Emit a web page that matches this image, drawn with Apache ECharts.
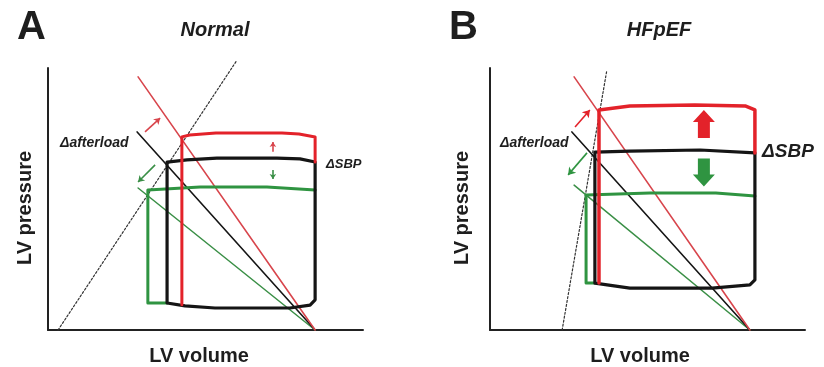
<!DOCTYPE html>
<html><head><meta charset="utf-8">
<script src="https://cdn.jsdelivr.net/npm/echarts@6/dist/echarts.min.js"></script>
<style>html,body{margin:0;padding:0;background:#fff}#c{width:824px;height:367px}</style>
</head><body><div id="c"></div>
<script>
// ---- Panel A: Normal (LV volume, LV pressure; arbitrary units 0-100) ----
const normalESPVR   = [[3.2,0],[60,103]];
const normalEaRed   = [[28.6,96.6],[84.8,0]];
const normalEaBlack = [[28.3,75.6],[84.8,0]];
const normalEaGreen = [[28.6,54.2],[84.8,0]];
const normalLoopBlack = [[37.8,10.3],[37.8,64.1],[44.1,64.9],[53.6,65.6],[72.7,65.6],[80,65.3],[84.8,64.1],[84.8,11.5],[83.2,9.5],[76.8,8.4],[53,8.4],[43.5,9.2],[37.8,10.3]];
const normalLoopRed   = [[42.5,9.6],[42.5,73.7],[45,74.4],[53.3,75.2],[74.3,75.2],[79.7,74.8],[84.8,73.7],[84.8,64.1]];
const normalLoopGreen = [[37.8,10.3],[31.7,10.3],[31.7,53.4],[48.3,54.6],[69.5,54.6],[84.8,53.4]];
const normalArrowRed   = [[30.8,75.6],[35.6,80.9]];
const normalArrowGreen = [[34.0,63.0],[28.6,56.5]];
const normalSbpUp   = [[71.4,68.0],[71.4,71.8]];
const normalSbpDown = [[71.4,61.1],[71.4,57.6]];

// ---- Panel B: HFpEF ----
const hfESPVR   = [[22.9,0],[37.1,99.2]];
const hfEaRed   = [[26.7,96.6],[82.5,0]];
const hfEaBlack = [[26.0,75.6],[82.5,0]];
const hfEaGreen = [[26.7,55.3],[82.5,0]];
const hfLoopBlack = [[33.3,17.9],[33.3,67.9],[44.4,68.3],[66.7,68.7],[84.1,67.6],[84.1,19.1],[82.5,17.2],[70.5,16.0],[44.4,16.0],[33.3,17.9]];
const hfLoopRed   = [[34.6,17.9],[34.6,84.0],[44.4,85.5],[65,85.9],[81,85.5],[84.1,84.0],[84.1,67.6]];
const hfLoopGreen = [[33.3,17.9],[30.5,17.9],[30.5,51.5],[50.8,52.3],[71.7,52.3],[84.1,51.1]];
const hfArrowRed   = [[27.0,77.5],[31.7,84.0]];
const hfArrowGreen = [[30.8,67.6],[24.8,59.2]];
const hfSbpUp   = [[67.9,78.6]];
const hfSbpDown = [[67.9,60.1]];

const RED = '#e3222a', GREEN = '#2f9441', BLACK = '#151515', REDLINE = '#d8454c', GREENLINE = '#3a8f46';

function ln(g, data, color, width, type, z) {
  return {type:'line', xAxisIndex:g, yAxisIndex:g, data:data, symbol:'none', clip:false, silent:true,
    lineStyle:{color:color, width:width, type:type||'solid', cap:'round', join:'round'}, z:z||2, animation:false};
}
function arrow(g, pts, color, size, z) {
  return {type:'lines', coordinateSystem:'cartesian2d', xAxisIndex:g, yAxisIndex:g, silent:true,
    symbol:['none','arrow'], symbolSize:size||7, lineStyle:{color:color, width:1.6, opacity:1, curveness:0},
    data:[{coords:pts}], z:z||5, animation:false};
}
const blockPath = 'path://M11,0L22,12L17,12L17,28L5,28L5,12L0,12Z';
function block(g, pt, color, rot) {
  return {type:'scatter', xAxisIndex:g, yAxisIndex:g, data:pt, symbol:blockPath, symbolSize:[22,28],
    symbolRotate:rot, itemStyle:{color:color, opacity:1}, silent:true, z:5, animation:false};
}

const axisCommon = {type:'value', min:0, max:100,
  axisLine:{show:true, onZero:false, lineStyle:{color:'#222', width:2}},
  axisTick:{show:false}, axisLabel:{show:false}, splitLine:{show:false}};

const TXT = '#1e1e1e';
const F = '"Liberation Sans", Arial, sans-serif';
function txt(x, y, s, font, align, rot) {
  return {type:'text', x:x, y:y, rotation:rot||0, silent:true,
    style:{text:s, font:font, fill:TXT, align:align||'center', verticalAlign:'middle'}};
}

const chart = echarts.init(document.getElementById('c'), null, {renderer:'canvas'});
chart.setOption({
  animation:false,
  backgroundColor:'#fff',
  grid:[{left:48, top:68, width:315, height:262}, {left:490, top:68, width:315, height:262}],
  xAxis:[Object.assign({gridIndex:0}, axisCommon), Object.assign({gridIndex:1}, axisCommon)],
  yAxis:[Object.assign({gridIndex:0}, axisCommon), Object.assign({gridIndex:1}, axisCommon)],
  series:[
    ln(0, normalESPVR, '#333', 1.2, [2,2], 1),
    ln(0, normalEaGreen, GREENLINE, 1.5),
    ln(0, normalEaBlack, BLACK, 1.6),
    ln(0, normalEaRed, REDLINE, 1.6),
    ln(0, normalLoopGreen, GREEN, 3, 'solid', 3),
    ln(0, normalLoopBlack, BLACK, 3.2, 'solid', 3),
    ln(0, normalLoopRed, RED, 3, 'solid', 4),
    arrow(0, normalArrowRed, REDLINE, 6),
    arrow(0, normalArrowGreen, GREENLINE, 6),
    arrow(0, normalSbpUp, REDLINE, 5),
    arrow(0, normalSbpDown, GREENLINE, 5),

    ln(1, hfESPVR, '#333', 1.2, [2,2], 1),
    ln(1, hfEaGreen, GREENLINE, 1.5),
    ln(1, hfEaBlack, BLACK, 1.6),
    ln(1, hfEaRed, REDLINE, 1.6),
    ln(1, hfLoopGreen, GREEN, 3, 'solid', 3),
    ln(1, hfLoopBlack, BLACK, 3.2, 'solid', 3),
    ln(1, hfLoopRed, RED, 3.5, 'solid', 4),
    arrow(1, hfArrowRed, RED, 7),
    arrow(1, hfArrowGreen, GREEN, 7),
    block(1, hfSbpUp, RED, 0),
    block(1, hfSbpDown, GREEN, 180)
  ],
  graphic:[
    txt(17, 28, 'A', 'bold 40px ' + F, 'left'),
    txt(449, 28, 'B', 'bold 40px ' + F, 'left'),
    txt(215, 30, 'Normal', 'italic bold 20px ' + F),
    txt(659, 30, 'HFpEF', 'italic bold 20px ' + F),
    txt(60, 143, 'Δafterload', 'italic bold 14px ' + F, 'left'),
    txt(500, 143, 'Δafterload', 'italic bold 14px ' + F, 'left'),
    txt(326, 164, 'ΔSBP', 'italic bold 13px ' + F, 'left'),
    txt(762, 152, 'ΔSBP', 'italic bold 19px ' + F, 'left'),
    txt(25, 208, 'LV pressure', 'bold 20px ' + F, 'center', Math.PI/2),
    txt(462, 208, 'LV pressure', 'bold 20px ' + F, 'center', Math.PI/2),
    txt(199, 356, 'LV volume', 'bold 20px ' + F),
    txt(640, 356, 'LV volume', 'bold 20px ' + F)
  ]
});
</script></body></html>
